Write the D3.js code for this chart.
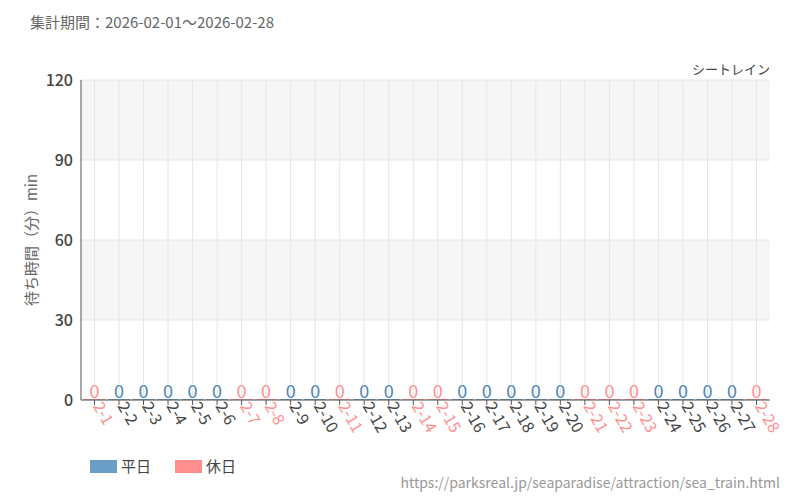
<!DOCTYPE html>
<html><head><meta charset="utf-8">
<script src="https://cdn.jsdelivr.net/npm/d3@7"></script>
<style>body{margin:0;background:#fff}text{font-family:"Noto Sans CJK JP","Noto Sans",sans-serif}</style>
</head><body><svg id="c" width="800" height="500"></svg>
<script>
const days = d3.range(1, 29).map(d => `2-${d}`);
const holidays = [1, 7, 8, 11, 14, 15, 21, 22, 23, 28];
const waits = days.map(() => 0);
const yTicks = [0, 30, 60, 90, 120];

const blue = "#6a9ec7", pink = "#ff8f8f";
const margin = {top: 80, left: 81, right: 30, bottom: 100};
const width = 800, height = 500;
const svg = d3.select("#c");

const x = d3.scaleBand().domain(days).range([margin.left, width - margin.right]).padding(0.1);
const y = d3.scaleLinear().domain([0, 120]).range([height - margin.bottom, margin.top]);
const isHol = d => holidays.includes(+d.split("-")[1]);

[[30, 60], [90, 120]].forEach(([a, b]) => {
    svg.append("rect").attr("x", margin.left).attr("width", width - margin.right - margin.left)
        .attr("y", y(b)).attr("height", y(a) - y(b)).attr("fill", "#f6f6f6");
});
svg.selectAll(".hg").data(yTicks).join("line")
    .attr("x1", margin.left).attr("x2", width - margin.right)
    .attr("y1", d => y(d)).attr("y2", d => y(d)).attr("stroke", "#e6e6e6");
svg.selectAll(".vg").data(days).join("line")
    .attr("x1", d => x(d) + x.bandwidth() / 2).attr("x2", d => x(d) + x.bandwidth() / 2)
    .attr("y1", margin.top).attr("y2", y(0)).attr("stroke", "#e6e6e6");

svg.selectAll(".bar").data(days).join("rect")
    .attr("x", d => x(d)).attr("width", x.bandwidth())
    .attr("y", (d, i) => y(waits[i]) - 1).attr("height", 1)
    .attr("fill", d => isHol(d) ? pink : blue);
svg.selectAll(".val").data(days).join("text")
    .attr("x", d => x(d) + x.bandwidth() / 2).attr("y", (d, i) => y(waits[i]) - 2)
    .attr("text-anchor", "middle").attr("font-size", 18)
    .attr("stroke", "#fff").attr("stroke-width", 2).attr("paint-order", "stroke")
    .attr("fill", d => isHol(d) ? pink : "#4a84b8").text((d, i) => waits[i]);

svg.append("line").attr("x1", margin.left).attr("x2", margin.left).attr("y1", margin.top).attr("y2", y(0)).attr("stroke", "#555");
svg.append("line").attr("x1", margin.left).attr("x2", width - margin.right).attr("y1", y(0)).attr("y2", y(0)).attr("stroke", "#555");
svg.selectAll(".yt").data(yTicks).join("text")
    .attr("x", margin.left - 8).attr("y", d => y(d) + 6).attr("text-anchor", "end")
    .attr("font-size", 16).attr("font-weight", 500).attr("fill", "#444").text(d => d);
svg.selectAll(".xt").data(days).join("line")
    .attr("x1", d => x(d) + x.bandwidth() / 2).attr("x2", d => x(d) + x.bandwidth() / 2)
    .attr("y1", y(0)).attr("y2", y(0) + 5).attr("stroke", "#555");
svg.selectAll(".xl").data(days).join("text")
    .attr("transform", d => `translate(${x(d) + x.bandwidth() / 2 - 2},${y(0) + 6}) rotate(60)`)
    .attr("font-size", 16).attr("fill", d => isHol(d) ? pink : "#444").text(d => d);

svg.append("text").attr("transform", `translate(37,${(margin.top + y(0)) / 2}) rotate(-90)`)
    .attr("text-anchor", "middle").attr("font-size", 15).attr("fill", "#666").text("待ち時間（分）min");
svg.append("text").attr("x", 30).attr("y", 28).attr("font-size", 15).attr("fill", "#666").text("集計期間：2026-02-01～2026-02-28");
svg.append("text").attr("x", 770).attr("y", 74).attr("text-anchor", "end").attr("font-size", 13).attr("fill", "#444").text("シートレイン");

[["平日", blue, 90], ["休日", pink, 175]].forEach(([t, c, lx]) => {
    svg.append("rect").attr("x", lx).attr("y", 460).attr("width", 27).attr("height", 13).attr("fill", c);
    svg.append("text").attr("x", lx + 31).attr("y", 472).attr("font-size", 15).attr("fill", "#444").text(t);
});
svg.append("text").attr("x", 780).attr("y", 488).attr("text-anchor", "end").attr("font-size", 14).attr("fill", "#999")
    .text("https://parksreal.jp/seaparadise/attraction/sea_train.html");
</script></body></html>
